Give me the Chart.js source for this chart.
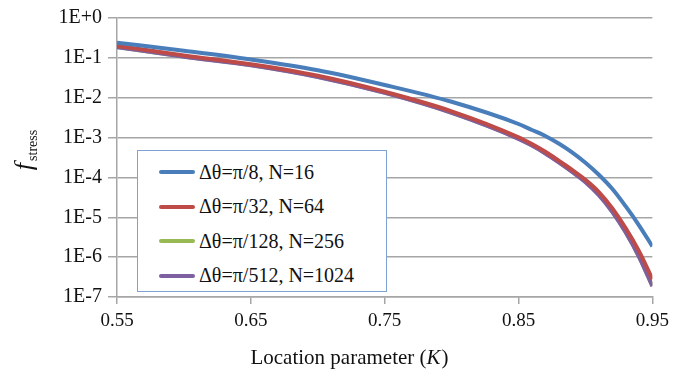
<!DOCTYPE html>
<html>
<head>
<meta charset="utf-8">
<script src="https://cdn.jsdelivr.net/npm/chart.js@4"></script>
<style>
  body { margin: 0; background: #fff; }
  #wrap { position: relative; width: 675px; height: 375px; }
  #legend {
    position: absolute; left: 137px; top: 150px; width: 250px; height: 142px;
    box-sizing: border-box; border: 1px solid #7ea3d2; background: #fff;
    font-family: "Liberation Serif", "Times New Roman", Times, "DejaVu Serif", serif; font-size: 20px; color: #111;
    padding-top: 4px;
  }
  #legend .row { display: flex; align-items: center; height: 34.5px; }
  #legend .swatch { width: 36px; height: 4px; margin-left: 21px; margin-right: 4px; border-radius: 2px; }
</style>
</head>
<body>
<div id="wrap">
  <canvas id="myChart" width="675" height="375"></canvas>
  <div id="legend"></div>
</div>
<script>
var kValues = [0.55, 0.60, 0.65, 0.70, 0.75, 0.80, 0.85, 0.86, 0.87, 0.88, 0.89, 0.90, 0.91, 0.92, 0.93, 0.94, 0.95];
var seriesNames = ['Δθ=π/8, N=16', 'Δθ=π/32, N=64', 'Δθ=π/128, N=256', 'Δθ=π/512, N=1024'];
var seriesColors = ['#4a7ebb', '#be4b48', '#98b954', '#7d60a0'];
var fN16   = [0.24, 0.151, 0.091, 0.049, 0.0209, 0.0079, 0.00219, 1.55e-3, 1.10e-3, 7.1e-4, 4.27e-4, 2.34e-4, 1.17e-4, 5.2e-5, 1.9e-5, 6.3e-6, 1.86e-6];
var fN64   = [0.20, 0.115, 0.069, 0.0355, 0.0141, 0.00457, 1.02e-3, 6.9e-4, 4.4e-4, 2.63e-4, 1.55e-4, 8.7e-5, 4.3e-5, 1.7e-5, 5.4e-6, 1.41e-6, 2.8e-7];
var fN256  = [0.188, 0.108, 0.066, 0.0335, 0.0134, 0.0042, 9.4e-4, 6.4e-4, 4.1e-4, 2.45e-4, 1.41e-4, 7.8e-5, 3.7e-5, 1.41e-5, 4.3e-6, 1.05e-6, 1.9e-7];
var fN1024 = [0.186, 0.107, 0.065, 0.033, 0.0132, 0.00417, 9.3e-4, 6.3e-4, 4.0e-4, 2.4e-4, 1.38e-4, 7.6e-5, 3.6e-5, 1.38e-5, 4.2e-6, 1.02e-6, 1.86e-7];
var xTicks = [0.55, 0.65, 0.75, 0.85, 0.95];
var yTicks = [1e-7, 1e-6, 1e-5, 1e-4, 1e-3, 1e-2, 1e-1, 1];

var allSeries = [fN16, fN64, fN256, fN1024];
// draw order: green under purple, red above purple, blue on top
var drawOrder = [0, 1, 3, 2];
var serif = '"Liberation Serif", "Times New Roman", Times, "DejaVu Serif", serif';

var datasets = allSeries.map(function(vals, i) {
  return {
    label: seriesNames[i],
    data: vals.map(function(v, j) { return { x: kValues[j], y: v }; }),
    borderColor: seriesColors[i],
    backgroundColor: seriesColors[i],
    borderWidth: 4,
    pointRadius: 0,
    order: drawOrder[i],
    cubicInterpolationMode: 'monotone',
    fill: false
  };
});

// axis titles (italic parts + subscript)
var titlesPlugin = {
  id: 'titles',
  afterDraw: function(chart) {
    var ctx = chart.ctx;
    ctx.save();
    ctx.fillStyle = '#111';
    ctx.textBaseline = 'alphabetic';
    // x title
    var a = 'Location parameter (', b = 'K', c = ')';
    ctx.font = '21px ' + serif;
    var wa = ctx.measureText(a).width, wc = ctx.measureText(c).width;
    ctx.font = 'italic 21px ' + serif;
    var wb = ctx.measureText(b).width;
    var x0 = 349 - (wa + wb + wc) / 2, y0 = 364;
    ctx.font = '21px ' + serif;
    ctx.fillText(a, x0, y0);
    ctx.font = 'italic 21px ' + serif;
    ctx.fillText(b, x0 + wa, y0);
    ctx.font = '21px ' + serif;
    ctx.fillText(c, x0 + wa + wb + 1, y0);
    // y title
    ctx.translate(28, 150);
    ctx.rotate(-Math.PI / 2);
    ctx.font = 'italic 26px ' + serif;
    var wf = ctx.measureText('f').width;
    ctx.font = '14px ' + serif;
    var ws = ctx.measureText('stress').width;
    var start = -(wf + ws + 2) / 2;
    ctx.font = 'italic 26px ' + serif;
    ctx.fillText('f', start, 4);
    ctx.font = '14px ' + serif;
    ctx.fillText('stress', start + wf + 2, 9);
    ctx.restore();
  }
};

var ctx = document.getElementById('myChart').getContext('2d');
var chart = new Chart(ctx, {
  type: 'line',
  data: { datasets: datasets },
  options: {
    responsive: false,
    animation: false,
    layout: { padding: { top: 16, right: 19, left: 0, bottom: 0 } },
    plugins: { legend: { display: false }, tooltip: { enabled: false } },
    scales: {
      x: {
        type: 'linear',
        min: 0.55,
        max: 0.95,
        afterBuildTicks: function(scale) {
          scale.ticks = xTicks.map(function(v) { return { value: v }; });
        },
        afterFit: function(scale) { scale.height = 78; },
        grid: { drawOnChartArea: false, drawTicks: true, tickLength: 7, color: '#a6a6a6', lineWidth: 1.5 },
        border: { color: '#a6a6a6', width: 1.5 },
        ticks: {
          color: '#111',
          font: { family: serif, size: 19 },
          padding: 6,
          maxRotation: 0,
          callback: function(v) { return Number(v).toFixed(2); }
        }
      },
      y: {
        type: 'logarithmic',
        min: 1e-7,
        max: 1,
        afterBuildTicks: function(scale) {
          scale.ticks = yTicks.map(function(v) { return { value: v, major: true }; });
        },
        afterFit: function(scale) { scale.width = 117; },
        grid: { color: '#a6a6a6', lineWidth: 1.5, tickLength: 9 },
        border: { color: '#a6a6a6', width: 1.5 },
        ticks: {
          color: '#111',
          font: { family: serif, size: 20 },
          padding: 6,
          autoSkip: false,
          callback: function(v) {
            var e = Math.round(Math.log10(v));
            return '1E' + (e >= 0 ? '+' : '') + e;
          }
        }
      }
    }
  },
  plugins: [titlesPlugin]
});

// legend box built from the datasets, in dataset index order
var legendEl = document.getElementById('legend');
chart.data.datasets.forEach(function(ds) {
  var row = document.createElement('div');
  row.className = 'row';
  var sw = document.createElement('span');
  sw.className = 'swatch';
  sw.style.background = ds.borderColor;
  var label = document.createElement('span');
  label.textContent = ds.label;
  row.appendChild(sw);
  row.appendChild(label);
  legendEl.appendChild(row);
});
</script>
</body>
</html>
